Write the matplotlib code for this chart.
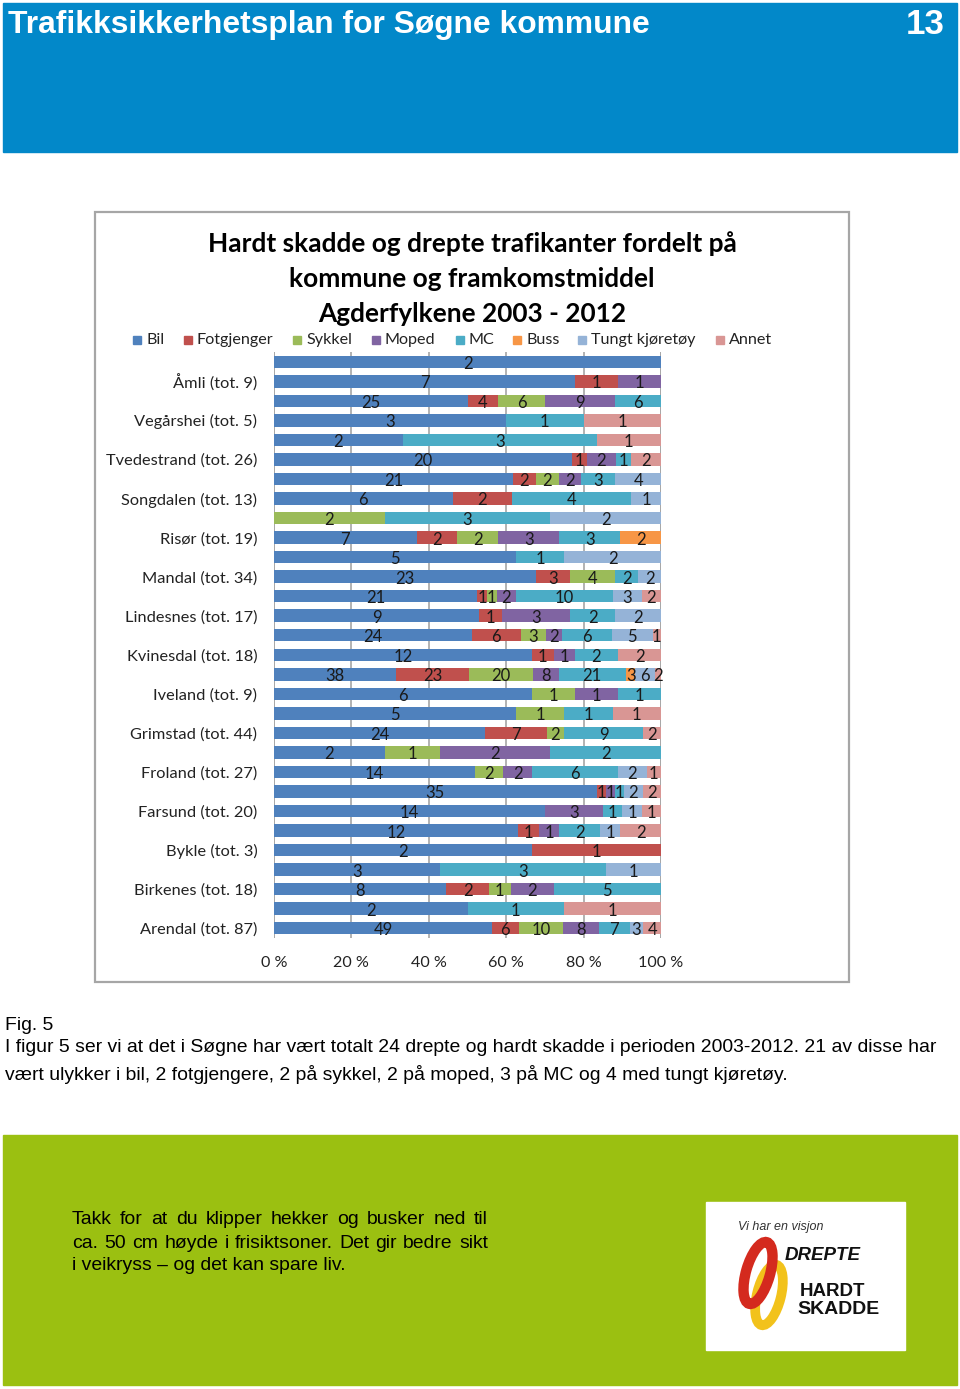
import matplotlib
matplotlib.use("Agg")
import matplotlib.pyplot as plt
from matplotlib.patches import Rectangle, Ellipse
from matplotlib import font_manager as fm
import numpy as np

# ---------------- data ----------------
municipalities = ["Arendal", "Audnedal", "Birkenes", "Bygland", "Bykle", "Evje og Hornnes",
                  "Farsund", "Flekkefjord", "Froland", "Gjerstad", "Grimstad", "Hægebostad",
                  "Iveland", "Kristiansand", "Kvinesdal", "Lillesand", "Lindesnes", "Lyngdal",
                  "Mandal", "Marnardal", "Risør", "Sirdal", "Songdalen", "Søgne", "Tvedestrand",
                  "Valle", "Vegårshei", "Vennesla", "Åmli", "Åseral"]
series_names = ["Bil", "Fotgjenger", "Sykkel", "Moped", "MC", "Buss", "Tungt kjøretøy", "Annet"]
bil        = [49, 2, 8, 3, 2, 12, 14, 35, 14, 2, 24, 5, 6, 38, 12, 24, 9, 21, 23, 5, 7, 0, 6, 21, 20, 2, 3, 25, 7, 2]
fotgjenger = [6, 0, 2, 0, 1, 1, 0, 1, 0, 0, 7, 0, 0, 23, 1, 6, 1, 1, 3, 0, 2, 0, 2, 2, 1, 0, 0, 4, 1, 0]
sykkel     = [10, 0, 1, 0, 0, 0, 0, 0, 2, 1, 2, 1, 1, 20, 0, 3, 0, 1, 4, 0, 2, 2, 0, 2, 0, 0, 0, 6, 0, 0]
moped      = [8, 0, 2, 0, 0, 1, 3, 1, 2, 2, 0, 0, 1, 8, 1, 2, 3, 2, 0, 0, 3, 0, 0, 2, 2, 0, 0, 9, 1, 0]
mc         = [7, 1, 5, 3, 0, 2, 1, 1, 6, 2, 9, 1, 1, 21, 2, 6, 2, 10, 2, 1, 3, 3, 4, 3, 1, 3, 1, 6, 0, 0]
buss       = [0, 0, 0, 0, 0, 0, 0, 0, 0, 0, 0, 0, 0, 3, 0, 0, 0, 0, 0, 0, 2, 0, 0, 0, 0, 0, 0, 0, 0, 0]
tungt      = [3, 0, 0, 1, 0, 1, 1, 2, 2, 0, 0, 0, 0, 6, 0, 5, 2, 3, 2, 2, 0, 2, 1, 4, 0, 0, 0, 0, 0, 0]
annet      = [4, 1, 0, 0, 0, 2, 1, 2, 1, 0, 2, 1, 0, 2, 2, 1, 0, 2, 0, 0, 0, 0, 0, 0, 2, 1, 1, 0, 0, 0]
x_ticks = [0, 20, 40, 60, 80, 100]
x_ticklabels = ["0 %", "20 %", "40 %", "60 %", "80 %", "100 %"]

colors = ["#4F81BD", "#C0504D", "#9BBB59", "#8064A2", "#4BACC6", "#F79646", "#95B3D7", "#D99694"]
series = [bil, fotgjenger, sykkel, moped, mc, buss, tungt, annet]


def has_font(name):
    try:
        fm.findfont(fm.FontProperties(family=name), fallback_to_default=False)
        return True
    except Exception:
        return False


ARIAL = "Liberation Sans Narrow" if has_font("Liberation Sans Narrow") else "Liberation Sans"
CAL = "Lato" if has_font("Lato") else "DejaVu Sans"

W, H = 960, 1389
fig = plt.figure(figsize=(W / 100, H / 100), dpi=100)
renderer = fig.canvas.get_renderer()

bg = fig.add_axes([0, 0, 1, 1])
bg.set_xlim(0, W)
bg.set_ylim(H, 0)
bg.axis("off")


def fit(t, width_px):
    bb = t.get_window_extent(renderer)
    t.set_fontsize(t.get_fontsize() * width_px / bb.width)
    return t.get_fontsize()


def justify(words_line, x0, x1, y, size, family, color="black"):
    words = words_line.split()
    ts = [bg.text(0, y, w, family=family, fontsize=size, color=color, va="center", ha="left")
          for w in words]
    widths = [tt.get_window_extent(renderer).width for tt in ts]
    gap = (x1 - x0 - sum(widths)) / max(len(words) - 1, 1)
    x = x0
    for tt, w in zip(ts, widths):
        tt.set_x(x)
        x += w + gap


# header
bg.add_patch(Rectangle((3, 3), 954, 149, color="#0288C9", zorder=0))
t = bg.text(8, 25, "Trafikksikkerhetsplan for Søgne kommune", color="white", weight="bold",
            family=ARIAL, fontsize=24, va="center", ha="left")
hs = fit(t, 642)
bg.text(945, 25, "13", color="white", weight="bold", family=ARIAL, fontsize=hs * 1.1,
        va="center", ha="right")

# chart frame
bg.add_patch(Rectangle((95, 212), 754, 770, fill=False, ec="#A6A6A6", lw=1.6, zorder=0))

# title
t1 = bg.text(472, 244, "Hardt skadde og drepte trafikanter fordelt på", family=CAL,
             weight="bold", fontsize=18, ha="center", va="center", color="black")
ts = fit(t1, 528)
bg.text(472, 279, "kommune og framkomstmiddel", family=CAL, weight="bold", fontsize=ts,
        ha="center", va="center", color="black")
bg.text(472, 314, "Agderfylkene 2003 - 2012", family=CAL, weight="bold", fontsize=ts,
        ha="center", va="center", color="black")

# legend
leg_x = [133, 184, 293, 372, 456, 513, 578, 716]
for xx, name, c in zip(leg_x, series_names, colors):
    bg.add_patch(Rectangle((xx, 336), 8, 8, color=c))
    bg.text(xx + 13, 340, name, family=CAL, fontsize=11.6, va="center", ha="left", color="#222222")

# ---------------- chart ----------------
ax = fig.add_axes([274 / W, 1 - 938 / H, 387 / W, (938 - 352) / H])
n = len(municipalities)
y = np.arange(n)
data = np.array(series, dtype=float)
totals = data.sum(axis=0)
pct = data / totals * 100
left = np.zeros(n)
for k in range(len(series)):
    ax.barh(y, pct[k], left=left, height=0.64, color=colors[k], zorder=2, linewidth=0)
    for i in range(n):
        if data[k, i] > 0:
            ax.text(left[i] + pct[k, i] / 2, y[i] - 0.1, f"{int(data[k, i])}", ha="center",
                    va="center", fontsize=12, family=CAL, color="#1a1a1a", zorder=3)
    left += pct[k]

ax.set_xlim(0, 100)
ax.set_ylim(-0.5, n - 0.5)
ax.set_xticks(x_ticks)
ax.set_xticklabels(x_ticklabels, family=CAL, fontsize=11.6, color="#222222")
ylabels = [f"{m} (tot. {int(tt)})" if i % 2 == 0 else "" for i, (m, tt) in enumerate(zip(municipalities, totals))]
ax.set_yticks(y)
ax.set_yticklabels(ylabels, family=CAL, fontsize=11.8, color="#222222")
ax.tick_params(axis="both", length=0)
ax.tick_params(axis="y", pad=12)
ax.tick_params(axis="x", pad=13)
ax.grid(axis="x", color="#A6A6A6", lw=1.2, zorder=0)
ax.set_axisbelow(True)
for s in ax.spines.values():
    s.set_visible(False)
ax.axvline(0, color="#A6A6A6", lw=1.2, zorder=1)
ax.axvline(100, color="#A6A6A6", lw=1.2, zorder=1)

# ---------------- body text ----------------
tmp = bg.text(5, 1048, "I figur 5 ser vi at det i Søgne har vært totalt 24 drepte og hardt skadde i perioden 2003-2012. 21 av disse har",
              family=ARIAL, fontsize=14, va="center", ha="left")
bs = fit(tmp, 935)
bg.text(5, 1025, "Fig. 5", family=ARIAL, fontsize=bs, va="center", ha="left")
bg.text(5, 1074, "vært ulykker i bil, 2 fotgjengere, 2 på sykkel, 2 på moped, 3 på MC og 4 med tungt kjøretøy.",
        family=ARIAL, fontsize=bs, va="center", ha="left")

# green box
bg.add_patch(Rectangle((3, 1135), 954, 250, color="#9BC011", zorder=0))
justify("Takk for at du klipper hekker og busker ned til", 72, 488, 1220, bs, ARIAL)
justify("ca. 50 cm høyde i frisiktsoner. Det gir bedre sikt", 72, 488, 1243, bs, ARIAL)
bg.text(72, 1266, "i veikryss – og det kan spare liv.", family=ARIAL, fontsize=bs, va="center", ha="left")

# logo
bg.add_patch(Rectangle((706, 1202), 199, 148, color="white", zorder=1))
bg.text(738, 1227, "Vi har en visjon", family="Liberation Sans", style="italic", fontsize=9,
        va="center", ha="left", color="#333333", zorder=3)
bg.add_patch(Ellipse((769, 1295), 24, 62, angle=14, fill=False, ec="#F2C21B", lw=7, zorder=2))
bg.add_patch(Ellipse((758, 1273), 24, 64, angle=16, fill=False, ec="#D42A1E", lw=7.5, zorder=3))
bg.text(785, 1255, "DREPTE", family="Liberation Sans", weight="bold", style="italic", fontsize=13.5,
        va="center", ha="left", color="#111111", zorder=4)
bg.text(800, 1291, "HARDT", family="Liberation Sans", weight="bold", fontsize=13.5,
        va="center", ha="left", color="#111111", zorder=4)
bg.text(797, 1309, "SKADDE", family="Liberation Sans", weight="bold", fontsize=14,
        va="center", ha="left", color="#111111", zorder=4)

fig.savefig("out.png", dpi=100)
